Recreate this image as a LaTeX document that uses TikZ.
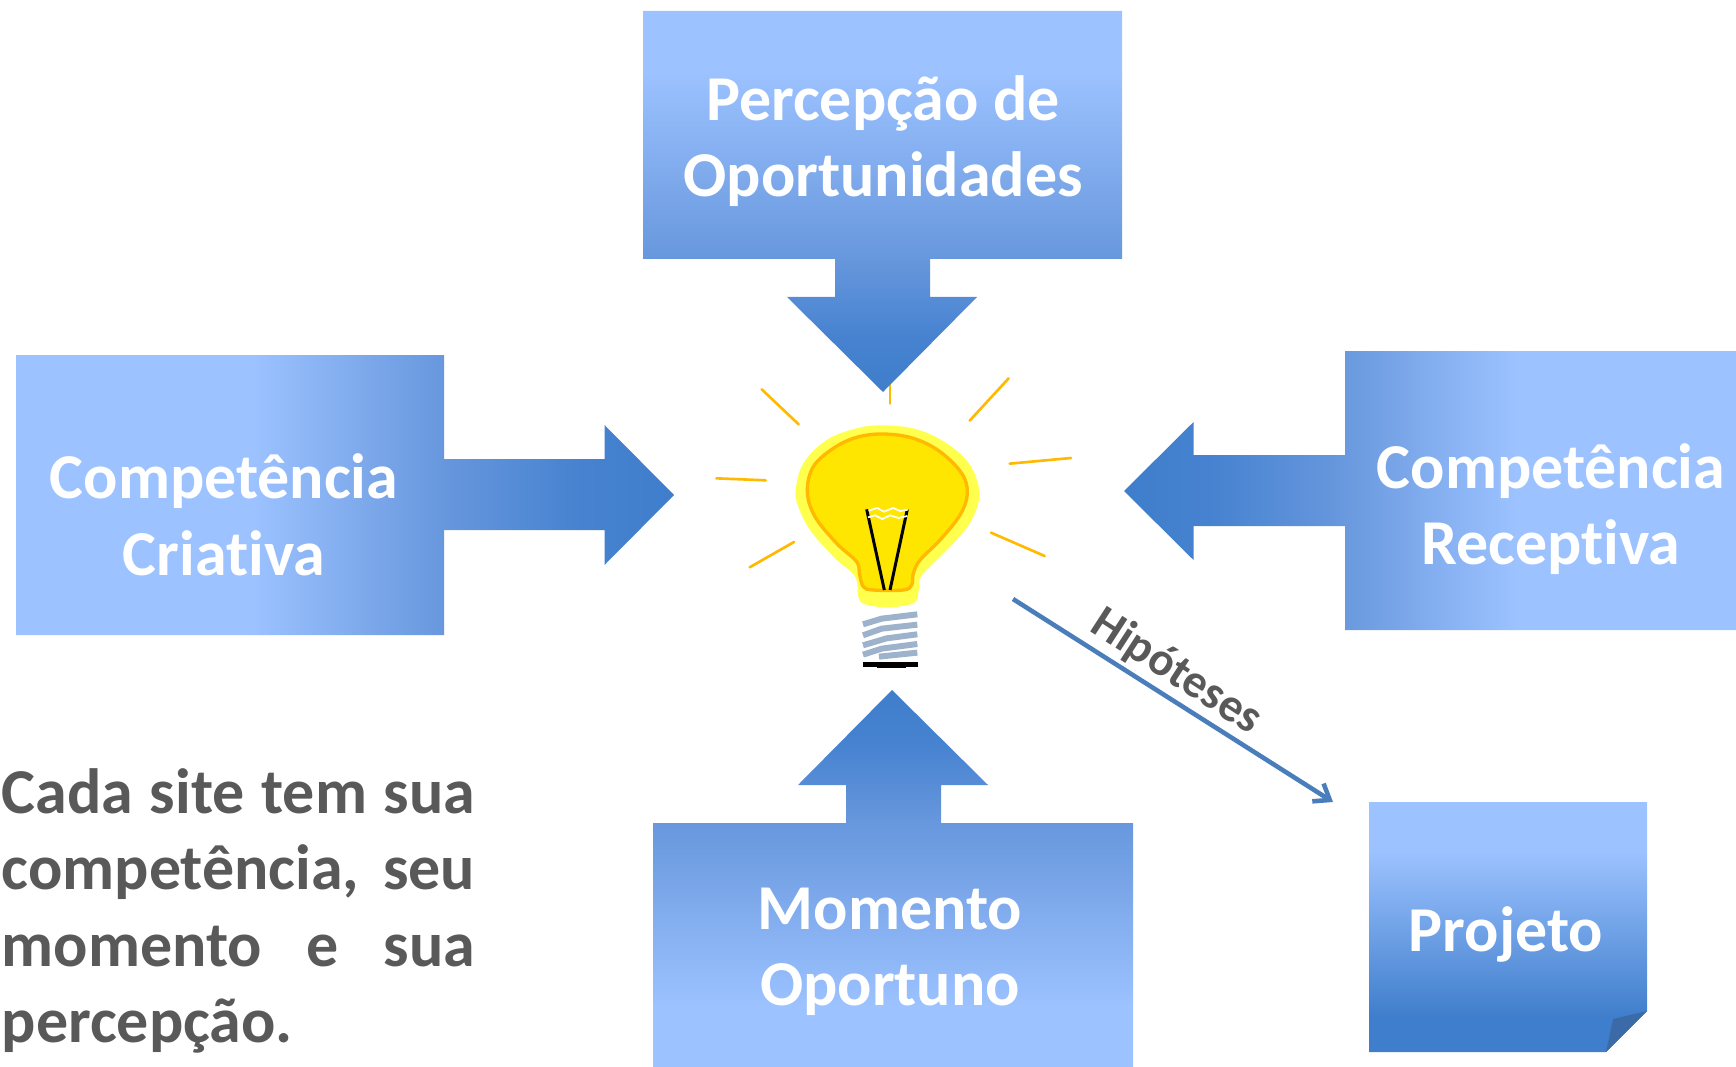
\documentclass[tikz,border=0pt]{standalone}
\usepackage{fontspec}
\setmainfont{Carlito}[Ligatures=CommonOff]
\usetikzlibrary{arrows.meta}
\definecolor{txtgray}{HTML}{595959}
\definecolor{lineblue}{HTML}{4A7EBB}
\definecolor{foldblue}{HTML}{3A6AA8}
\definecolor{rayc}{HTML}{FFB900}
\definecolor{glow}{HTML}{FFFF4D}
\definecolor{bulbc}{HTML}{FFE600}
\definecolor{screwc}{HTML}{9DB2CB}
\definecolor{gA}{HTML}{3F7ECC}
\definecolor{gB}{HTML}{4682D0}
\definecolor{gC}{HTML}{6797DD}
\definecolor{gD}{HTML}{9CC2FF}
\pgfdeclareverticalshading{arrowbox}{100bp}{
 color(0bp)=(gA);color(25bp)=(gA);color(32bp)=(gB);color(42.5bp)=(gC);color(67bp)=(gD);color(100bp)=(gD)}
\pgfdeclareverticalshading{sidebox}{100bp}{
 color(0bp)=(gA);color(25bp)=(gA);color(32bp)=(gB);color(42.5bp)=(gC);color(57bp)=(gD);color(100bp)=(gD)}
\pgfdeclareverticalshading{notebox}{100bp}{
 color(0bp)=(gA);color(32bp)=(gA);color(65bp)=(gD);color(100bp)=(gD)}
\begin{document}
\begin{tikzpicture}[x=0.02cm,y=-0.02cm,
  boxlabel/.style={text=white,font=\fontsize{36.4pt}{43.5pt}\selectfont\bfseries,align=center,inner sep=0pt},
  ray/.style={draw=rayc,line width=1.5pt,line cap=round},
  wire/.style={draw=black,line width=1.7pt},
  coil/.style={draw=white,line width=1pt},
  thread/.style={draw=screwc,line width=3.4pt}]
\useasboundingbox (0,0) rectangle (1736,1067);
\begin{scope}
\clip (0,0) rectangle (1736,1067);
% bulb, in a local frame
\begin{scope}[shift={(700,360)},x=0.00666667cm,y=-0.00666667cm]
 \draw[ray] (185,88)--(296,193);
 \draw[ray] (570,70)--(570,131);
 \draw[ray] (926,55)--(809,182);
 \draw[ray] (929,311)--(1113,294);
 \draw[ray] (873,518)--(1034,588);
 \draw[ray] (282,546)--(149,622);
 \draw[ray] (197,361)--(49,355);
 \fill[glow] plot[smooth cycle,tension=0.6] coordinates {(550,196)(650,208)(740,250)(810,315)(838,400)(815,480)(760,550)(690,620)(660,655)(655,700)(640,730)(565,742)(495,733)(475,710)(465,650)(400,590)(330,510)(295,440)(287,390)(310,310)(380,240)(470,205)};
 \draw[draw=rayc,fill=bulbc,line width=1.9pt] plot[smooth cycle,tension=0.6] coordinates {(550,222)(640,235)(720,275)(785,340)(802,400)(780,465)(720,540)(660,600)(640,640)(635,675)(610,690)(520,690)(490,680)(478,640)(470,605)(410,550)(345,470)(322,395)(340,320)(400,265)(470,232)};
 \draw[wire] (500,448)--(553,690);
 \draw[wire] (622,448)--(570,690);
 \draw[coil] (506,452)--(532,444)--(552,455)--(580,444)--(600,453)--(624,449);
 \draw[coil] (504,472)--(525,466)--(547,477)--(570,466)--(596,474)--(622,468);
 \draw[thread] (489,793)--(545,776)--(652,763);
 \draw[thread] (489,826)--(545,806)--(652,794);
 \draw[thread] (489,856)--(560,835)--(652,823);
 \draw[thread] (489,884)--(545,866)--(652,852);
 \draw[thread] (537,890)--(652,878);
 \fill[black] (489,906) rectangle (654,920);
 \fill[black] (532,920) rectangle (618,924);
\end{scope}
% arrow boxes
\path[shading=arrowbox] (643,11)--(1122,11)--(1122,259)--(930,259)--(930,297)--(977,297)--(883,392)--(787,297)--(835,297)--(835,259)--(643,259)--cycle;
\path[shading=arrowbox,shading angle=180] (653,1067)--(1133,1067)--(1133,823)--(941,823)--(941,785)--(988,785)--(892,690)--(798,785)--(846,785)--(846,823)--(653,823)--cycle;
\path[shading=sidebox,shading angle=90] (16,355)--(444,355)--(444,459)--(604.5,459)--(604.5,425)--(674,495)--(604.5,565)--(604.5,530)--(444,530)--(444,635)--(16,635)--cycle;
\path[shading=sidebox,shading angle=-90] (1736,351)--(1345,351)--(1345,455)--(1193.5,455)--(1193.5,422)--(1124,491)--(1193.5,560)--(1193.5,526)--(1345,526)--(1345,630)--(1736,630)--cycle;
% note
\path[shading=notebox] (1369,802)--(1647,802)--(1647,1011)--(1606,1052)--(1369,1052)--cycle;
\fill[foldblue] (1606,1052)--(1613,1019)--(1647,1011)--cycle;
\end{scope}
% labels
\node[boxlabel] (perc) at (883,141) {Percepção de\\Oportunidades};
\node[boxlabel] (cria) at (224,515) {Competência\\Criativa};
\node[boxlabel] (rece) at (1551,509) {Competência\\Receptiva};
\node[boxlabel] (mome) at (890,952) {Momento\\Oportuno};
\node[boxlabel] (proj) at (1506,934) {Projeto};
% connector
\coordinate (hipstart) at (1013,599);
\coordinate (hipend) at (1333,802);
\draw[lineblue,line width=2.6pt,-{Straight Barb[length=8pt,width=12pt,line width=2.6pt]}] (hipstart)--(hipend);
\node[text=txtgray,font=\fontsize{26.8pt}{30pt}\selectfont\bfseries,rotate=-33,inner sep=0pt] (hipo) at (1176,672) {Hipóteses};
\node[text=txtgray,font=\fontsize{36.4pt}{43.5pt}\selectfont\bfseries,text width=9.47cm,inner sep=0pt,anchor=north west,align=justify] (side) at (1.5,768) {Cada site tem sua competência, seu momento e sua percepção.};
\end{tikzpicture}
\end{document}
